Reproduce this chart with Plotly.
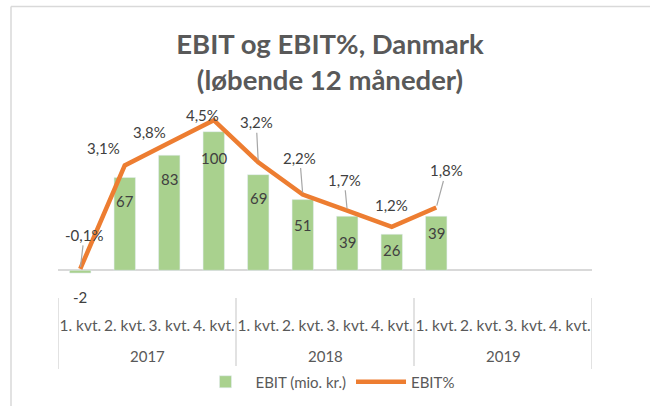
import plotly.graph_objects as go

years = ["2017", "2018", "2019"]
quarters = ["1. kvt.", "2. kvt.", "3. kvt.", "4. kvt."] * 3
ebit = [-2, 67, 83, 100, 69, 51, 39, 26, 39, None, None, None]
ebit_pct = [-0.1, 3.1, 3.8, 4.5, 3.2, 2.2, 1.7, 1.2, 1.8, None, None, None]
ebit_pct_labels = ["-0,1%", "3,1%", "3,8%", "4,5%", "3,2%", "2,2%", "1,7%", "1,2%", "1,8%"]

# styling / label offsets (pixels)
bar_label_shift = [-24, -24, -24, -26, -23, -25, -26, -16, -17]
pct_offsets = [(4, -34), (-21, -17), (-20, -11), (-11, -5), (-2, -40),
               (-3, -37), (-3, -31), (0, -22), (10, -37)]
pct_leader = [True, False, False, False, True, True, True, False, True]

GREEN = "#A9D18E"
ORANGE = "#ED7D31"
TXT = "#595959"
LBL = "#404040"
GRID = "#D9D9D9"
FONT = "Lato"

W, H = 650, 406
L, R, T, B = 58, 592, 104, 298

idx = list(range(len(quarters)))

fig = go.Figure()
fig.add_trace(go.Bar(
    x=idx, y=ebit, name="EBIT (mio. kr.)",
    marker=dict(color=GREEN), width=0.48, yaxis="y",
))
fig.add_trace(go.Scatter(
    x=idx, y=ebit_pct, name="EBIT%", mode="lines",
    line=dict(color=ORANGE, width=4.5), yaxis="y2",
))


def px2paper_x(px):
    return (px - L) / (R - L)


def px2paper_y(py):
    return (B - py) / (B - T)


ann = []
for i, v in enumerate(ebit):
    if v is None:
        continue
    ann.append(dict(x=i, y=v, xref="x", yref="y", text=str(v), showarrow=False,
                    yshift=bar_label_shift[i], font=dict(family=FONT, size=15, color=LBL)))
for i, v in enumerate(ebit_pct):
    if v is None:
        continue
    ax, ay = pct_offsets[i]
    ann.append(dict(x=i, y=v, xref="x", yref="y2", text=ebit_pct_labels[i],
                    showarrow=True, arrowhead=0, arrowwidth=1.2, standoff=2,
                    arrowcolor="#A6A6A6" if pct_leader[i] else "rgba(0,0,0,0)",
                    ax=ax, ay=ay, font=dict(family=FONT, size=15, color=LBL)))

n_per_year = 4
for k, yr in enumerate(years):
    ann.append(dict(x=k * n_per_year + (n_per_year - 1) / 2, y=px2paper_y(356),
                    xref="x", yref="paper", text=yr, showarrow=False,
                    yanchor="middle", font=dict(family=FONT, size=15, color=TXT)))

shapes = [
    dict(type="line", xref="paper", yref="paper",
         x0=px2paper_x(11), x1=px2paper_x(11), y0=px2paper_y(6.5), y1=px2paper_y(410),
         line=dict(color=GRID, width=1.5)),
    dict(type="line", xref="paper", yref="paper",
         x0=px2paper_x(11), x1=px2paper_x(660), y0=px2paper_y(6.5), y1=px2paper_y(6.5),
         line=dict(color=GRID, width=1.5)),
]
for k in range(len(years) + 1):
    xb = k * n_per_year - 0.5
    shapes.append(dict(type="line", xref="x", yref="paper", x0=xb, x1=xb,
                       y0=0, y1=px2paper_y(369), line=dict(color=GRID, width=1.5)))

fig.update_layout(
    width=W, height=H,
    margin=dict(l=L, r=W - R, t=T, b=H - B, pad=0, autoexpand=False),
    paper_bgcolor="white", plot_bgcolor="white",
    font=dict(family=FONT, color=TXT, size=13),
    title=dict(text="<b>EBIT og EBIT%, Danmark<br>(løbende 12 måneder)</b>",
               x=0.5 + 5 / W, xanchor="center", xref="container",
               y=1 - 54 / H, yanchor="middle", yref="container",
               font=dict(family=FONT, size=27.5, color=TXT)),
    xaxis=dict(range=[-0.5, len(quarters) - 0.5], tickvals=idx, ticktext=quarters,
               showgrid=False, showline=False, zeroline=False, tickangle=0,
               tickfont=dict(family=FONT, size=15.5, color=TXT),
               ticks="", ticklabelstandoff=16),
    yaxis=dict(range=[-20, 120], showticklabels=False, showgrid=False,
               zeroline=True, zerolinecolor=GRID, zerolinewidth=1.5, ticks=""),
    yaxis2=dict(range=[-1, 5], overlaying="y", side="right", visible=False),
    legend=dict(orientation="h", x=0.5 + 3 / W, xanchor="center", y=px2paper_y(382),
                yanchor="middle", font=dict(family=FONT, size=15, color=TXT),
                itemwidth=50, traceorder="normal"),
    annotations=ann, shapes=shapes,
)

fig.write_html("out.html", config={"displayModeBar": False},
               post_script="document.body.style.margin='0px';")
